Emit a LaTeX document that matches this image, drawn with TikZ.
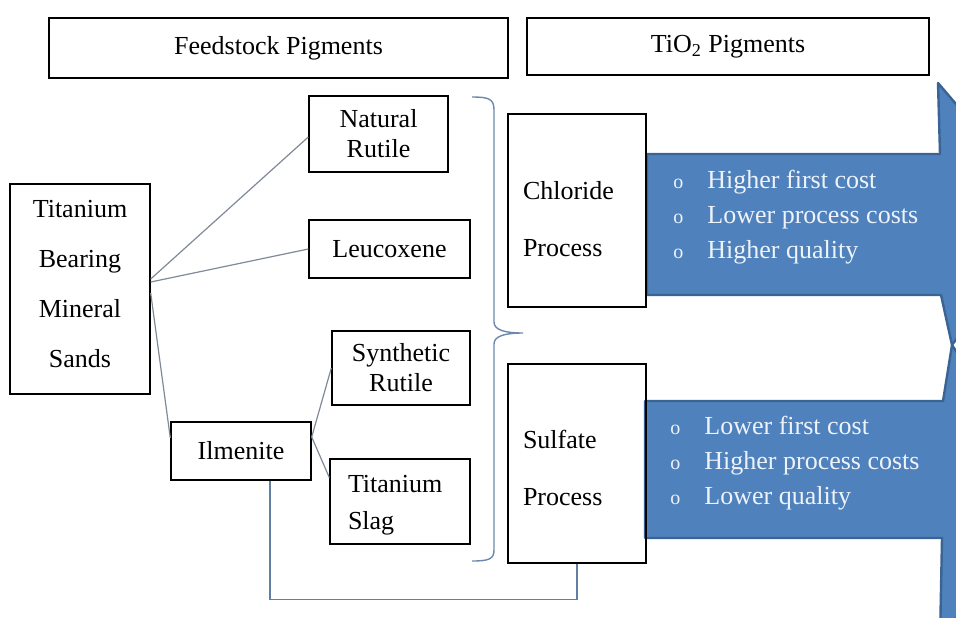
\documentclass[tikz,border=0pt]{standalone}
\usepackage{fontspec}
\setmainfont{Liberation Serif}
\usetikzlibrary{arrows.meta}
\definecolor{linkgray}{HTML}{7F8A97}
\definecolor{braceblue}{HTML}{6C88AA}
\definecolor{pathblue}{HTML}{5F7FA3}
\definecolor{arrowblue}{HTML}{4F81BD}
\definecolor{arrowedge}{HTML}{3A6493}
\definecolor{listtext}{HTML}{EEF3FA}
\tikzset{
  box/.style={draw, line width=0.7pt, inner sep=0pt, align=center, font=\fontsize{13}{15}\selectfont},
  procbox/.style={box, align=left, minimum width=69pt, text width=54pt, inner xsep=7.5pt, font=\fontsize{13}{28.5}\selectfont},
  link/.style={draw=linkgray, line width=0.6pt},
  bigarrow/.style={fill=arrowblue, draw=arrowedge, line width=1.2pt, line join=round},
  bullets/.style={anchor=west, inner sep=0pt, align=left, text=listtext, font=\fontsize{13}{17.5}\selectfont}
}
\newcommand{\bul}{\makebox[17pt][l]{\fontsize{10}{10}\selectfont o}}

\begin{document}
\begin{tikzpicture}[x=0.5pt,y=-0.5pt]
\useasboundingbox (0,0) rectangle (956,617);
\clip (0,0) rectangle (956,617);

% headers
\node[box, minimum width=229.5pt, minimum height=30pt] (feed) at (278.5,48) {Feedstock Pigments};
\node[box, minimum width=201pt, minimum height=28.5pt] (tio) at (728,46.5) {TiO\textsubscript{2} Pigments};

% big arrows
\path[bigarrow] (647,154) -- (940,154) -- (938,83) -- (1050,214) -- (952,345)
  -- (941,295) -- (647,295) -- cycle;
\path[bigarrow] (645,401) -- (943,401) -- (952,345) -- (1050,492) -- (940,640)
  -- (942,538) -- (645,538) -- cycle;
\node[bullets] (chlList) at (673,217) {\bul Higher first cost\\\bul Lower process costs\\\bul Higher quality};
\node[bullets] (sulList) at (670,463) {\bul Lower first cost\\\bul Higher process costs\\\bul Lower quality};

% feedstock
\node[box, minimum width=70pt, minimum height=105pt, font=\fontsize{13}{25}\selectfont] (sands) at (80,289) {Titanium\\Bearing\\Mineral\\Sands\vspace{5pt}};
\node[box, minimum width=69.5pt, minimum height=38pt] (natural) at (378.5,134) {Natural\\Rutile};
\node[box, minimum width=80.5pt, minimum height=29pt] (leuco) at (389.5,249) {Leucoxene};
\node[box, minimum width=69pt, minimum height=37pt] (synth) at (401,368) {Synthetic\\Rutile};
\node[box, minimum width=70pt, minimum height=29pt] (ilmen) at (241,451) {Ilmenite};
\node[box, align=left, minimum width=70pt, text width=52pt, inner xsep=9pt, minimum height=42.5pt, font=\fontsize{13}{18.5}\selectfont] (slag) at (400,501.5) {\rule{0pt}{12pt}Titanium\\Slag};

% processes
\node[procbox, minimum height=96.5pt] (chloride) at (577,210.5) {\rule{0pt}{18pt}Chloride\\Process};
\node[procbox, minimum height=99.5pt] (sulfate) at (577,463.5) {\rule{0pt}{14pt}Sulfate\\Process};

% links
\draw[link] ([yshift=5pt]sands.east) -- ([yshift=-1.5pt]natural.west);
\draw[link] ([yshift=3.5pt]sands.east) -- (leuco.west);
\draw[link] ([yshift=-2pt]sands.east) -- ([yshift=6.5pt]ilmen.west);
\draw[link] ([yshift=7pt]ilmen.east) -- (synth.west);
\draw[link] ([yshift=7pt]ilmen.east) -- ([yshift=12pt]slag.west);
\draw[draw=pathblue, line width=0.7pt] ([xshift=14.5pt]ilmen.south) -- ++(0,119) -| (sulfate.south);

% brace
\draw[braceblue, line width=0.7pt] (472,97) .. controls (489,97) and (494,99) .. (494,110)
  -- (494,322) .. controls (494,330) and (505,333) .. (523,333)
  .. controls (505,333) and (494,336) .. (494,344)
  -- (494,550) .. controls (494,559) and (489,561) .. (472,561);
\end{tikzpicture}
\end{document}
